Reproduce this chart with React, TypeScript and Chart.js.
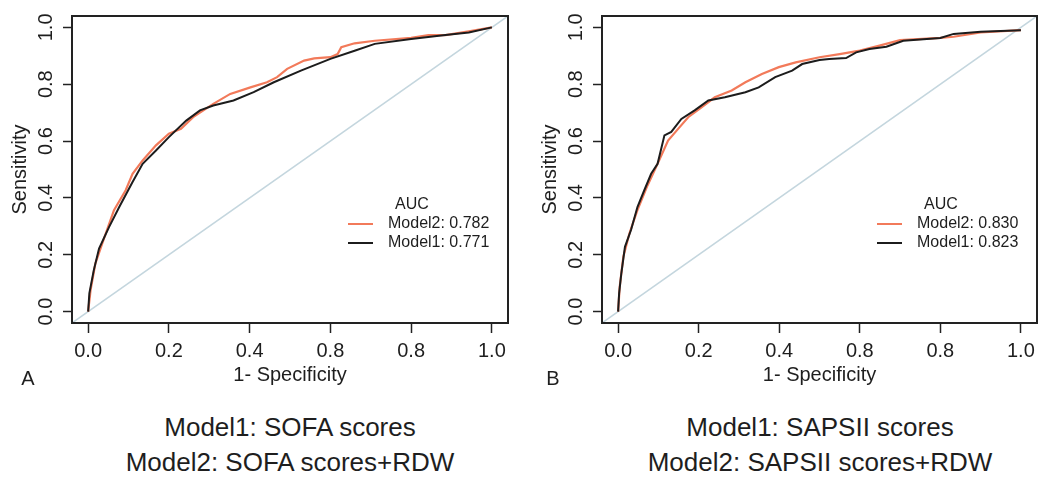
import React, { useEffect, useRef } from "react";
import { Chart, registerables } from "chart.js";
Chart.register(...registerables);

// ---------- data ----------
const xTickValues = [0, 0.2, 0.4, 0.6, 0.8, 1.0];
const xTickLabels = ["0.0", "0.2", "0.4", "0.8", "0.8", "1.0"];
const yTickValues = [0, 0.2, 0.4, 0.6, 0.8, 1.0];
const yTickLabels = ["0.0", "0.2", "0.4", "0.6", "0.8", "1.0"];

const legendNames = ["Model2", "Model1"];
const aucSofa = [0.782, 0.771];
const aucSaps = [0.83, 0.823];

const diagX = [-0.04, 1.04];
const diagY = [-0.04, 1.04];

const sofaM1X = [0, 0.003, 0.014, 0.027, 0.052, 0.077, 0.11, 0.135, 0.168, 0.2, 0.243, 0.277, 0.31, 0.36, 0.41, 0.46, 0.527, 0.6, 0.66, 0.71, 0.8, 0.885, 0.943, 1];
const sofaM1Y = [0, 0.064, 0.146, 0.222, 0.298, 0.368, 0.456, 0.52, 0.567, 0.614, 0.672, 0.708, 0.725, 0.743, 0.772, 0.807, 0.848, 0.889, 0.918, 0.942, 0.959, 0.973, 0.982, 1];

const sofaM2X = [0, 0.006, 0.018, 0.035, 0.064, 0.093, 0.11, 0.135, 0.168, 0.2, 0.23, 0.26, 0.31, 0.352, 0.402, 0.443, 0.468, 0.493, 0.535, 0.56, 0.6, 0.618, 0.627, 0.66, 0.71, 0.8, 0.843, 0.885, 0.943, 1];
const sofaM2Y = [0, 0.076, 0.17, 0.24, 0.357, 0.427, 0.485, 0.532, 0.585, 0.626, 0.643, 0.684, 0.731, 0.766, 0.789, 0.807, 0.825, 0.854, 0.883, 0.891, 0.895, 0.906, 0.93, 0.944, 0.953, 0.963, 0.973, 0.973, 0.986, 1];

const sapsM1X = [0, 0.0025, 0.008, 0.017, 0.032, 0.048, 0.065, 0.082, 0.098, 0.115, 0.132, 0.157, 0.19, 0.224, 0.265, 0.316, 0.349, 0.39, 0.432, 0.457, 0.5, 0.524, 0.566, 0.591, 0.624, 0.666, 0.708, 0.8, 0.833, 0.9, 1];
const sapsM1Y = [0, 0.064, 0.135, 0.228, 0.287, 0.368, 0.427, 0.485, 0.52, 0.62, 0.632, 0.678, 0.708, 0.743, 0.754, 0.772, 0.789, 0.825, 0.848, 0.871, 0.885, 0.889, 0.892, 0.912, 0.924, 0.932, 0.953, 0.963, 0.977, 0.985, 0.99];

const sapsM2X = [0, 0.004, 0.013, 0.028, 0.048, 0.073, 0.098, 0.124, 0.149, 0.174, 0.207, 0.24, 0.282, 0.316, 0.357, 0.399, 0.441, 0.5, 0.55, 0.6, 0.649, 0.7, 0.8, 0.833, 0.9, 1];
const sapsM2Y = [0, 0.088, 0.193, 0.275, 0.357, 0.444, 0.52, 0.602, 0.643, 0.684, 0.719, 0.754, 0.778, 0.807, 0.836, 0.86, 0.877, 0.895, 0.906, 0.918, 0.936, 0.955, 0.963, 0.967, 0.982, 0.99];

// ---------- styles ----------
const FONT = "'Liberation Sans', Arial, Helvetica, sans-serif";
const TEXT = "#1e1e1e";
const ORANGE = "#f27a5a";
const BLACK = "#1c1c1c";
const DIAG = "#c4d6de";
const lineColors = [ORANGE, BLACK];

const zip = (xs: number[], ys: number[]) => xs.map((x, i) => ({ x, y: ys[i] }));

const boxPlugin = {
  id: "box",
  afterDatasetsDraw(chart: any) {
    const { ctx, chartArea } = chart;
    ctx.save();
    ctx.strokeStyle = "#222";
    ctx.lineWidth = 2;
    ctx.strokeRect(chartArea.left, chartArea.top, chartArea.right - chartArea.left, chartArea.bottom - chartArea.top);
    ctx.restore();
  },
};

const aucLegendPlugin = {
  id: "aucLegend",
  afterDatasetsDraw(chart: any, _args: any, opts: any) {
    const { ctx, chartArea } = chart;
    const r = chartArea.right;
    const t = chartArea.top;
    ctx.save();
    ctx.font = `16px ${FONT}`;
    ctx.textBaseline = "middle";
    ctx.textAlign = "left";
    ctx.fillStyle = TEXT;
    ctx.fillText("AUC", r - 113, t + 189);
    (opts.names || []).forEach((name: string, i: number) => {
      const y = t + 208 + 19 * i;
      ctx.strokeStyle = lineColors[i];
      ctx.lineWidth = 2;
      ctx.beginPath();
      ctx.moveTo(r - 160, y);
      ctx.lineTo(r - 135, y);
      ctx.stroke();
      ctx.fillStyle = TEXT;
      ctx.fillText(`${name}: ${opts.values[i].toFixed(3)}`, r - 120, y);
    });
    ctx.restore();
  },
};

type PanelProps = {
  left: number;
  width: number;
  m1x: number[];
  m1y: number[];
  m2x: number[];
  m2y: number[];
  auc: number[];
  padRight: number;
};

function Panel({ left, width, m1x, m1y, m2x, m2y, auc, padRight }: PanelProps) {
  const ref = useRef<HTMLCanvasElement | null>(null);
  useEffect(() => {
    if (!ref.current) return;
    const tickFont = { family: FONT, size: 20 };
    const chart = new Chart(ref.current, {
      type: "line",
      data: {
        datasets: [
          {
            label: "Model1",
            data: zip(m1x, m1y),
            borderColor: BLACK,
            borderWidth: 2,
            pointRadius: 0,
            tension: 0,
          },
          {
            label: "Model2",
            data: zip(m2x, m2y),
            borderColor: ORANGE,
            borderWidth: 2.2,
            pointRadius: 0,
            tension: 0,
          },
          {
            label: "diag",
            data: zip(diagX, diagY),
            borderColor: DIAG,
            borderWidth: 1.5,
            pointRadius: 0,
          },
        ],
      },
      options: {
        animation: false,
        responsive: false,
        devicePixelRatio: 1,
        layout: { padding: { top: 16, right: padRight, left: 0, bottom: 0 } },
        plugins: {
          legend: { display: false },
          tooltip: { enabled: false },
          aucLegend: { names: legendNames, values: auc },
        } as any,
        scales: {
          x: {
            type: "linear",
            min: -0.04,
            max: 1.04,
            afterBuildTicks: (s: any) => {
              s.ticks = xTickValues.map((v) => ({ value: v }));
            },
            afterFit: (s: any) => {
              s.height = 77;
              s.paddingLeft = 0;
              s.paddingRight = 0;
            },
            ticks: {
              autoSkip: false,
              maxRotation: 0,
              minRotation: 0,
              padding: 6,
              color: TEXT,
              font: tickFont,
              callback: (_v: any, i: number) => xTickLabels[i],
            },
            grid: {
              display: true,
              drawOnChartArea: false,
              drawTicks: true,
              tickLength: 10,
              tickColor: "#222",
              tickWidth: 1.5,
            },
            border: { display: true, color: "#222", width: 2 },
            title: {
              display: true,
              text: "1- Specificity",
              color: TEXT,
              font: { family: FONT, size: 20 },
              padding: { top: 0, bottom: 13 },
            },
          },
          y: {
            type: "linear",
            min: -0.04,
            max: 1.04,
            afterBuildTicks: (s: any) => {
              s.ticks = yTickValues.map((v) => ({ value: v }));
            },
            afterFit: (s: any) => {
              s.width = 72;
              s.paddingTop = 0;
              s.paddingBottom = 0;
            },
            ticks: {
              autoSkip: false,
              minRotation: 90,
              maxRotation: 90,
              crossAlign: "center",
              padding: 3,
              color: TEXT,
              font: tickFont,
              callback: (_v: any, i: number) => yTickLabels[i],
            },
            grid: {
              display: true,
              drawOnChartArea: false,
              drawTicks: true,
              tickLength: 9,
              tickColor: "#222",
              tickWidth: 1.5,
            },
            border: { display: true, color: "#222", width: 2 },
            title: {
              display: true,
              text: "Sensitivity",
              color: TEXT,
              font: { family: FONT, size: 20 },
              padding: { top: 8, bottom: 0 },
            },
          },
        },
      } as any,
      plugins: [boxPlugin, aucLegendPlugin],
    });
    return () => chart.destroy();
  }, []);
  return (
    <canvas
      ref={ref}
      width={width}
      height={400}
      style={{ position: "absolute", left, top: 0, width, height: 400 }}
    />
  );
}

const captionStyle = (cx: number, cy: number): React.CSSProperties => ({
  position: "absolute",
  left: cx - 250,
  width: 500,
  top: cy - 15,
  height: 30,
  lineHeight: "30px",
  textAlign: "center",
  fontSize: 26,
  color: TEXT,
  whiteSpace: "nowrap",
});

const letterStyle = (cx: number, cy: number): React.CSSProperties => ({
  position: "absolute",
  left: cx - 15,
  width: 30,
  top: cy - 12,
  height: 24,
  lineHeight: "24px",
  textAlign: "center",
  fontSize: 20,
  color: TEXT,
});

export default function App() {
  return (
    <div
      style={{
        position: "fixed",
        left: 0,
        top: 0,
        width: 1038,
        height: 477,
        background: "#ffffff",
        fontFamily: FONT,
        overflow: "hidden",
      }}
    >
      <Panel left={0} width={519} m1x={sofaM1X} m1y={sofaM1Y} m2x={sofaM2X} m2y={sofaM2Y} auc={aucSofa} padRight={11} />
      <Panel left={530} width={508} m1x={sapsM1X} m1y={sapsM1Y} m2x={sapsM2X} m2y={sapsM2Y} auc={aucSaps} padRight={1} />
      <div style={letterStyle(28, 378)}>A</div>
      <div style={letterStyle(553, 378)}>B</div>
      <div style={captionStyle(290, 427)}>Model1: SOFA scores</div>
      <div style={captionStyle(290, 462)}>Model2: SOFA scores+RDW</div>
      <div style={captionStyle(820, 427)}>Model1: SAPSII scores</div>
      <div style={captionStyle(820, 462)}>Model2: SAPSII scores+RDW</div>
    </div>
  );
}
